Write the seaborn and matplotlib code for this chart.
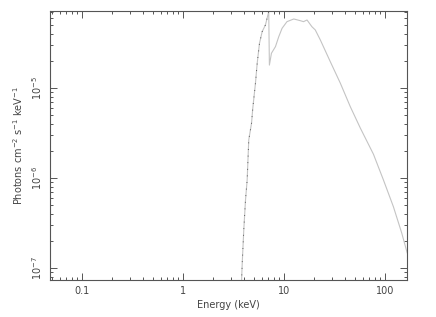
import matplotlib
matplotlib.use("Agg")
import matplotlib.pyplot as plt
import matplotlib.ticker as mticker
import numpy as np
import pandas as pd
import seaborn as sns

energy = [3.80, 3.86, 4.00, 4.16, 4.32, 4.48, 4.77, 4.91, 5.22, 5.43, 5.72, 6.08, 6.55, 7.06,
          7.17, 7.51, 8.23, 8.87, 9.57, 10.7, 12.5, 14.5, 15.6, 16.9, 18.9, 20.4, 22.9,
          28.7, 36.1, 45.3, 56.9, 76.8, 96.4, 121.0, 146.5, 166.0]
flux = [7.05e-8, 1.14e-7, 2.67e-7, 5.74e-7, 9.58e-7, 2.67e-6, 4.08e-6, 6.0e-6, 1.14e-5, 1.90e-5,
        3.16e-5, 4.26e-5, 5.05e-5, 7.1e-5,
        1.81e-5, 2.45e-5, 2.90e-5, 3.74e-5, 4.64e-5, 5.50e-5, 5.89e-5, 5.64e-5, 5.50e-5, 5.74e-5,
        4.83e-5, 4.45e-5, 3.44e-5, 1.98e-5, 1.14e-5, 6.25e-6, 3.62e-6, 1.85e-6, 9.58e-7,
        4.83e-7, 2.45e-7, 1.47e-7]

xticks = [0.1, 1, 10, 100]
xticklabels = ["0.1", "1", "10", "100"]
yticks = [1e-7, 1e-6, 1e-5]
yticklabels = ["10$^{-7}$", "10$^{-6}$", "10$^{-5}$"]

df = pd.DataFrame({"Energy": energy, "Flux": flux})
rise = df[df["Energy"] <= 7.06]

sns.set_style("ticks")
plt.rcParams['font.family'] = ['DejaVu Sans']
plt.rcParams['mathtext.default'] = 'regular'

fig = plt.figure(figsize=(4.36, 3.17), dpi=100)
ax = fig.add_axes([50/436, 1-280/317, (407-50)/436, (280-10.7)/317])

sns.lineplot(data=df, x="Energy", y="Flux", sort=False, ax=ax, color="#c4c4c4", linewidth=0.8)
sns.lineplot(data=rise, x="Energy", y="Flux", sort=False, ax=ax, color="#444444",
             linewidth=0.7, linestyle=(0, (0.8, 6)))

ax.set_xscale("log")
ax.set_yscale("log")
ax.set_xlim(0.0483, 165)
ax.set_ylim(7.4e-8, 7.28e-5)

frame_col = "#555555"
text_col = "#444444"
for s in ax.spines.values():
    s.set_color(frame_col)
    s.set_linewidth(0.8)

ax.set_xticks(xticks)
ax.set_xticklabels(xticklabels)
ax.set_yticks(yticks)
ax.set_yticklabels(yticklabels, rotation=90, va="center")
ax.xaxis.set_minor_locator(mticker.LogLocator(base=10, subs=np.arange(2, 10), numticks=20))
ax.yaxis.set_minor_locator(mticker.LogLocator(base=10, subs=np.arange(2, 10), numticks=20))
ax.xaxis.set_minor_formatter(mticker.NullFormatter())
ax.yaxis.set_minor_formatter(mticker.NullFormatter())

ax.tick_params(which="both", direction="in", top=True, right=True, colors=frame_col,
               labelcolor=text_col, labelsize=7, width=0.7)
ax.tick_params(which="major", length=5, pad=4)
ax.tick_params(which="minor", length=2.5)

ax.set_xlabel("Energy (keV)", fontsize=7, color=text_col, labelpad=3)
ax.set_ylabel("Photons cm$^{-2}$ s$^{-1}$ keV$^{-1}$", fontsize=7, color=text_col, labelpad=4)

fig.savefig("out.png", dpi=100, facecolor="white")
